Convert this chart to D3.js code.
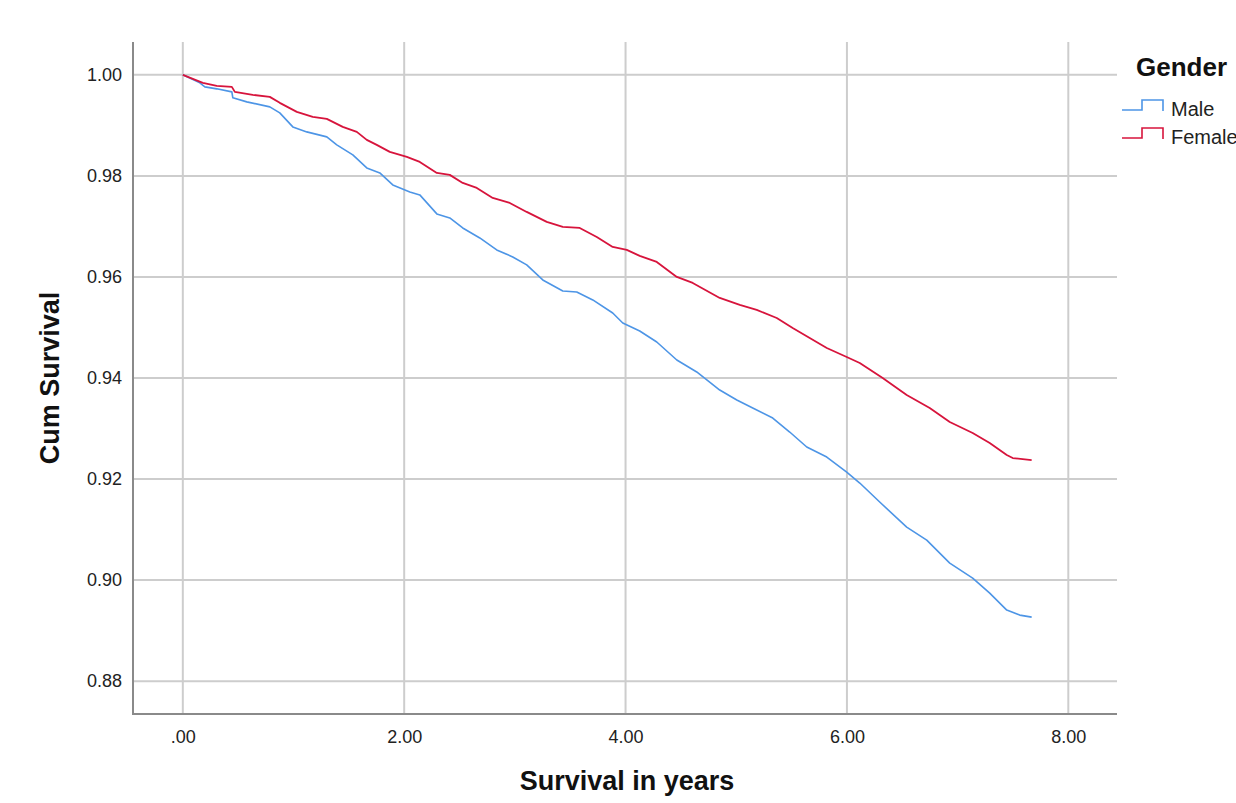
<!DOCTYPE html>
<html>
<head>
<meta charset="utf-8">
<script src="https://cdn.jsdelivr.net/npm/d3@7"></script>
<style>
  html, body { margin: 0; padding: 0; background: #fff; }
  svg { display: block; font-family: Arial, "Liberation Sans", sans-serif; }
</style>
</head>
<body>
<svg id="chart" width="1236" height="803"></svg>
<script>
// ---- data ----
const xTicks = [0, 2, 4, 6, 8];
const xTickLabels = [".00", "2.00", "4.00", "6.00", "8.00"];
const yTicks = [1.00, 0.98, 0.96, 0.94, 0.92, 0.90, 0.88];
const yTickLabels = ["1.00", "0.98", "0.96", "0.94", "0.92", "0.90", "0.88"];
const seriesNames = ["Male", "Female"];

const maleTime = [0, 0.154, 0.199, 0.307, 0.443, 0.452, 0.578, 0.786, 0.876, 0.994, 1.120, 1.301, 1.391, 1.536, 1.662, 1.780, 1.897, 2.051, 2.141, 2.295, 2.412, 2.529, 2.683, 2.836, 2.981, 3.107, 3.252, 3.433, 3.559, 3.704, 3.884, 3.975, 4.128, 4.282, 4.463, 4.643, 4.851, 5.005, 5.149, 5.330, 5.483, 5.637, 5.818, 5.998, 6.116, 6.296, 6.540, 6.721, 6.929, 7.136, 7.290, 7.444, 7.561, 7.669];
const maleSurv = [1.0000, 0.99842, 0.99762, 0.99723, 0.99663, 0.99545, 0.99465, 0.99366, 0.99248, 0.98970, 0.98871, 0.98772, 0.98614, 0.98416, 0.98158, 0.98059, 0.97822, 0.97683, 0.97624, 0.97248, 0.97168, 0.96970, 0.96772, 0.96535, 0.96396, 0.96238, 0.95941, 0.95723, 0.95703, 0.95545, 0.95287, 0.95089, 0.94931, 0.94713, 0.94356, 0.94119, 0.93762, 0.93564, 0.93406, 0.93208, 0.92931, 0.92634, 0.92436, 0.92139, 0.91921, 0.91545, 0.91050, 0.90792, 0.90337, 0.90040, 0.89743, 0.89406, 0.89307, 0.89267];

const femaleTime = [0, 0.181, 0.307, 0.443, 0.470, 0.632, 0.786, 0.876, 1.030, 1.174, 1.301, 1.445, 1.572, 1.662, 1.752, 1.870, 2.024, 2.141, 2.295, 2.412, 2.529, 2.656, 2.800, 2.954, 3.107, 3.288, 3.433, 3.586, 3.740, 3.884, 4.011, 4.128, 4.282, 4.463, 4.607, 4.851, 5.032, 5.185, 5.366, 5.510, 5.664, 5.818, 5.998, 6.116, 6.323, 6.540, 6.748, 6.929, 7.136, 7.290, 7.444, 7.498, 7.669];
const femaleSurv = [1.0000, 0.99842, 0.99782, 0.99762, 0.99663, 0.99604, 0.99564, 0.99446, 0.99267, 0.99168, 0.99129, 0.98970, 0.98871, 0.98713, 0.98614, 0.98475, 0.98376, 0.98277, 0.98059, 0.98020, 0.97861, 0.97762, 0.97564, 0.97465, 0.97287, 0.97089, 0.96990, 0.96970, 0.96792, 0.96594, 0.96535, 0.96416, 0.96297, 0.96000, 0.95881, 0.95584, 0.95446, 0.95347, 0.95188, 0.94990, 0.94792, 0.94594, 0.94416, 0.94297, 0.94000, 0.93663, 0.93406, 0.93129, 0.92911, 0.92713, 0.92475, 0.92416, 0.92376];

// ---- layout ----
const plot = { left: 133, right: 1117, top: 42, bottom: 714 };
const colors = { Male: "#4d95e6", Female: "#d7143c" };

const svg = d3.select("#chart");
const x = d3.scaleLinear().domain([-0.45, 8.44]).range([plot.left, plot.right]);
const y = d3.scaleLinear().domain([0.8735, 1.0065]).range([plot.bottom, plot.top]);

// gridlines
const grid = svg.append("g").attr("class", "grid");
grid.selectAll("line.v").data(xTicks).enter().append("line")
  .attr("x1", d => x(d)).attr("x2", d => x(d))
  .attr("y1", plot.top).attr("y2", plot.bottom)
  .attr("stroke", "#cdcdcd").attr("stroke-width", 2);
grid.selectAll("line.h").data(yTicks).enter().append("line")
  .attr("y1", d => y(d)).attr("y2", d => y(d))
  .attr("x1", plot.left).attr("x2", plot.right)
  .attr("stroke", "#cdcdcd").attr("stroke-width", 2);

// axes (no tick marks; labels via d3 axis)
const xAxis = d3.axisBottom(x).tickValues(xTicks)
  .tickFormat((d, i) => xTickLabels[i]).tickSize(0).tickPadding(16);
const yAxis = d3.axisLeft(y).tickValues(yTicks)
  .tickFormat((d, i) => yTickLabels[i]).tickSize(0).tickPadding(11);

const gx = svg.append("g").attr("transform", `translate(0,${plot.bottom})`).call(xAxis);
const gy = svg.append("g").attr("transform", `translate(${plot.left},0)`).call(yAxis);
[gx, gy].forEach(g => {
  g.select(".domain").remove();
  g.selectAll("text").attr("font-size", 18).attr("fill", "#222")
    .attr("font-family", "Arial, 'Liberation Sans', sans-serif");
});

// axis lines
svg.append("line").attr("x1", plot.left).attr("x2", plot.left)
  .attr("y1", plot.top).attr("y2", plot.bottom + 1)
  .attr("stroke", "#8a8a8a").attr("stroke-width", 2);
svg.append("line").attr("x1", plot.left - 1).attr("x2", plot.right)
  .attr("y1", plot.bottom).attr("y2", plot.bottom)
  .attr("stroke", "#8a8a8a").attr("stroke-width", 2);

// survival curves
const line = d3.line().x(d => x(d[0])).y(d => y(d[1])).curve(d3.curveLinear);
const series = [
  { name: "Male", pts: d3.zip(maleTime, maleSurv), w: 1.6 },
  { name: "Female", pts: d3.zip(femaleTime, femaleSurv), w: 1.8 }
];
series.forEach(s => {
  svg.append("path").datum(s.pts)
    .attr("d", line)
    .attr("fill", "none")
    .attr("stroke", colors[s.name])
    .attr("stroke-width", s.w)
    .attr("stroke-linejoin", "round");
});

// axis titles
svg.append("text").attr("x", 627).attr("y", 790)
  .attr("text-anchor", "middle").attr("font-weight", "bold").attr("font-size", 27)
  .attr("fill", "#111").text("Survival in years");
svg.append("text").attr("transform", "translate(59,378) rotate(-90)")
  .attr("text-anchor", "middle").attr("font-weight", "bold").attr("font-size", 27)
  .attr("fill", "#111").text("Cum Survival");

// legend
const legend = svg.append("g");
legend.append("text").attr("x", 1136).attr("y", 76)
  .attr("font-weight", "bold").attr("font-size", 26).attr("fill", "#111").text("Gender");
seriesNames.forEach((name, i) => {
  const by = 110 + i * 28;
  const sym = d3.path();
  sym.moveTo(1122, by); sym.lineTo(1142, by); sym.lineTo(1142, by - 10);
  sym.lineTo(1163, by - 10); sym.lineTo(1163, by + 1);
  legend.append("path").attr("d", sym.toString()).attr("fill", "none")
    .attr("stroke", colors[name]).attr("stroke-width", 1.6);
  legend.append("text").attr("x", 1171).attr("y", by + 6)
    .attr("font-size", 20).attr("fill", "#222").text(name);
});
</script>
</body>
</html>
